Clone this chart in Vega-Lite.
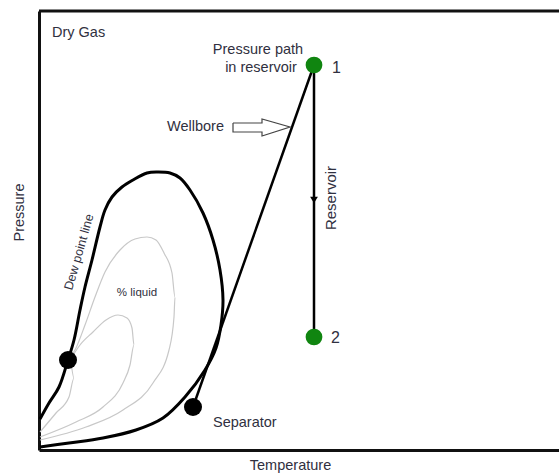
{
  "$schema": "https://vega.github.io/schema/vega-lite/v6.json",
  "width": 520,
  "height": 439,
  "autosize": "none",
  "padding": {"left": 39, "top": 11, "right": 0, "bottom": 23},
  "background": "white",
  "config": {
    "view": {"stroke": null},
    "text": {"font": "Liberation Sans", "color": "#303040"}
  },
  "encoding": {
    "x": {
      "field": "t", "type": "quantitative",
      "scale": {"domain": [0, 520], "nice": false, "zero": false},
      "axis": {
        "title": "Temperature", "domain": true, "domainColor": "#111111", "domainWidth": 3,
        "ticks": false, "labels": false, "grid": false,
        "titleFont": "Liberation Sans", "titleFontSize": 14.5, "titleFontWeight": "normal",
        "titleColor": "#303040", "titleX": 251, "titleY": 15, "titleBaseline": "middle", "titleAlign": "center"
      }
    },
    "y": {
      "field": "p", "type": "quantitative",
      "scale": {"domain": [0, 439], "nice": false, "zero": false},
      "axis": {
        "title": "Pressure", "domain": true, "domainColor": "#111111", "domainWidth": 3,
        "ticks": false, "labels": false, "grid": false,
        "titleFont": "Liberation Sans", "titleFontSize": 14.5, "titleFontWeight": "normal",
        "titleColor": "#303040", "titleX": -20, "titleY": 201, "titleBaseline": "middle", "titleAlign": "center", "titleAngle": -90
      }
    }
  },
  "layer": [
    {
      "data": {"values": [
        {"s": "A", "i": 0, "t": 31, "p": 92}, {"s": "A", "i": 1, "t": 37, "p": 102}, {"s": "A", "i": 2, "t": 46, "p": 125},
        {"s": "A", "i": 3, "t": 56, "p": 153}, {"s": "A", "i": 4, "t": 66, "p": 178}, {"s": "A", "i": 5, "t": 81, "p": 200},
        {"s": "A", "i": 6, "t": 96, "p": 211}, {"s": "A", "i": 7, "t": 108, "p": 213}, {"s": "A", "i": 8, "t": 117, "p": 210},
        {"s": "A", "i": 9, "t": 125, "p": 197}, {"s": "A", "i": 10, "t": 133, "p": 177}, {"s": "A", "i": 11, "t": 136, "p": 153},
        {"s": "A", "i": 12, "t": 135, "p": 133}, {"s": "A", "i": 13, "t": 130, "p": 100}, {"s": "A", "i": 14, "t": 114, "p": 67},
        {"s": "A", "i": 15, "t": 84, "p": 40}, {"s": "A", "i": 16, "t": 47, "p": 23}, {"s": "A", "i": 17, "t": 1, "p": 10},
        {"s": "B", "i": 0, "t": 33, "p": 93}, {"s": "B", "i": 1, "t": 41, "p": 105}, {"s": "B", "i": 2, "t": 54, "p": 118},
        {"s": "B", "i": 3, "t": 67, "p": 130}, {"s": "B", "i": 4, "t": 79, "p": 135}, {"s": "B", "i": 5, "t": 88, "p": 132},
        {"s": "B", "i": 6, "t": 93, "p": 122}, {"s": "B", "i": 7, "t": 95, "p": 105}, {"s": "B", "i": 8, "t": 91, "p": 85},
        {"s": "B", "i": 9, "t": 84, "p": 67}, {"s": "B", "i": 10, "t": 64, "p": 43}, {"s": "B", "i": 11, "t": 37, "p": 28},
        {"s": "B", "i": 12, "t": 1, "p": 13},
        {"s": "C", "i": 0, "t": 32, "p": 88}, {"s": "C", "i": 1, "t": 35, "p": 72}, {"s": "C", "i": 2, "t": 30, "p": 53},
        {"s": "C", "i": 3, "t": 17, "p": 37}, {"s": "C", "i": 4, "t": 1, "p": 18}
      ]},
      "mark": {"type": "line", "color": "#c8c8c8", "strokeWidth": 1.2, "interpolate": "monotone"},
      "encoding": {"detail": {"field": "s"}, "order": {"field": "i"}}
    },
    {
      "data": {"values": [
        {"i": 0, "t": 1, "p": 31}, {"i": 1, "t": 10, "p": 47}, {"i": 2, "t": 20, "p": 63}, {"i": 3, "t": 29, "p": 90},
        {"i": 4, "t": 35, "p": 110}, {"i": 5, "t": 41, "p": 140}, {"i": 6, "t": 46, "p": 163}, {"i": 7, "t": 53, "p": 190},
        {"i": 8, "t": 61, "p": 223}, {"i": 9, "t": 66, "p": 240}, {"i": 10, "t": 73, "p": 253}, {"i": 11, "t": 83, "p": 263},
        {"i": 12, "t": 94, "p": 270}, {"i": 13, "t": 108, "p": 277}, {"i": 14, "t": 118, "p": 278}, {"i": 15, "t": 131, "p": 277},
        {"i": 16, "t": 141, "p": 272}, {"i": 17, "t": 151, "p": 260}, {"i": 18, "t": 164, "p": 237},
        {"i": 19, "t": 174, "p": 210}, {"i": 20, "t": 181, "p": 180}, {"i": 21, "t": 184, "p": 150}, {"i": 22, "t": 182, "p": 125},
        {"i": 23, "t": 177, "p": 102}, {"i": 24, "t": 166, "p": 80}, {"i": 25, "t": 146, "p": 53}, {"i": 26, "t": 124, "p": 32},
        {"i": 27, "t": 97, "p": 20}, {"i": 28, "t": 64, "p": 12}, {"i": 29, "t": 30, "p": 7}, {"i": 30, "t": 1, "p": 3}
      ]},
      "mark": {"type": "line", "color": "#000000", "strokeWidth": 3, "interpolate": "catmull-rom"},
      "encoding": {"order": {"field": "i"}}
    },
    {
      "data": {"values": [
        {"s": "well", "i": 0, "t": 275, "p": 385}, {"s": "well", "i": 1, "t": 154, "p": 43},
        {"s": "res", "i": 0, "t": 275, "p": 385}, {"s": "res", "i": 1, "t": 275, "p": 113}
      ]},
      "mark": {"type": "line", "color": "#000000", "strokeWidth": 2.5},
      "encoding": {"detail": {"field": "s"}, "order": {"field": "i"}}
    },
    {
      "data": {"values": [
        {"i": 0, "t": 0, "p": 439}, {"i": 1, "t": 520, "p": 439}
      ]},
      "mark": {"type": "line", "color": "#111111", "strokeWidth": 3},
      "encoding": {"order": {"field": "i"}}
    },
    {
      "data": {"values": [
        {"i": 0, "t": 194, "p": 327}, {"i": 1, "t": 223, "p": 327}, {"i": 2, "t": 223, "p": 331},
        {"i": 3, "t": 251, "p": 323}, {"i": 4, "t": 223, "p": 314}, {"i": 5, "t": 223, "p": 318},
        {"i": 6, "t": 194, "p": 318}, {"i": 7, "t": 194, "p": 327}
      ]},
      "mark": {"type": "line", "color": "#444444", "strokeWidth": 1.2},
      "encoding": {"order": {"field": "i"}}
    },
    {
      "data": {"values": [{"t": 275, "p": 250}]},
      "mark": {"type": "point", "shape": "triangle-down", "filled": true, "color": "#000000", "size": 60, "opacity": 1}
    },
    {
      "data": {"values": [{"t": 29, "p": 90}, {"t": 154, "p": 43}]},
      "mark": {"type": "circle", "color": "#000000", "size": 324, "opacity": 1}
    },
    {
      "data": {"values": [{"t": 275, "p": 385}, {"t": 275, "p": 113}]},
      "mark": {"type": "circle", "color": "#108510", "size": 280, "opacity": 1}
    },
    {
      "data": {"values": [{"t": 13, "p": 417, "label": "Dry Gas"}, {"t": 174, "p": 27, "label": "Separator"}]},
      "mark": {"type": "text", "align": "left", "baseline": "middle", "fontSize": 14.5},
      "encoding": {"text": {"field": "label"}}
    },
    {
      "data": {"values": [{"t": 293, "p": 382, "label": "1"}, {"t": 292, "p": 112, "label": "2"}]},
      "mark": {"type": "text", "align": "left", "baseline": "middle", "fontSize": 16},
      "encoding": {"text": {"field": "label"}}
    },
    {
      "data": {"values": [{"t": 219, "p": 400, "label": "Pressure path"}, {"t": 222, "p": 382, "label": "in reservoir"}]},
      "mark": {"type": "text", "align": "center", "baseline": "middle", "fontSize": 14.5},
      "encoding": {"text": {"field": "label"}}
    },
    {
      "data": {"values": [{"t": 185, "p": 323, "label": "Wellbore"}]},
      "mark": {"type": "text", "align": "right", "baseline": "middle", "fontSize": 14.5},
      "encoding": {"text": {"field": "label"}}
    },
    {
      "data": {"values": [{"t": 292, "p": 252, "label": "Reservoir"}]},
      "mark": {"type": "text", "align": "center", "baseline": "middle", "fontSize": 15, "angle": 270},
      "encoding": {"text": {"field": "label"}}
    },
    {
      "data": {"values": [{"t": 98, "p": 157, "label": "% liquid"}]},
      "mark": {"type": "text", "align": "center", "baseline": "middle", "fontSize": 11.5},
      "encoding": {"text": {"field": "label"}}
    },
    {
      "data": {"values": [{"t": 40, "p": 198, "label": "Dew point line"}]},
      "mark": {"type": "text", "align": "center", "baseline": "middle", "fontSize": 12.5, "angle": 286},
      "encoding": {"text": {"field": "label"}}
    }
  ]
}
